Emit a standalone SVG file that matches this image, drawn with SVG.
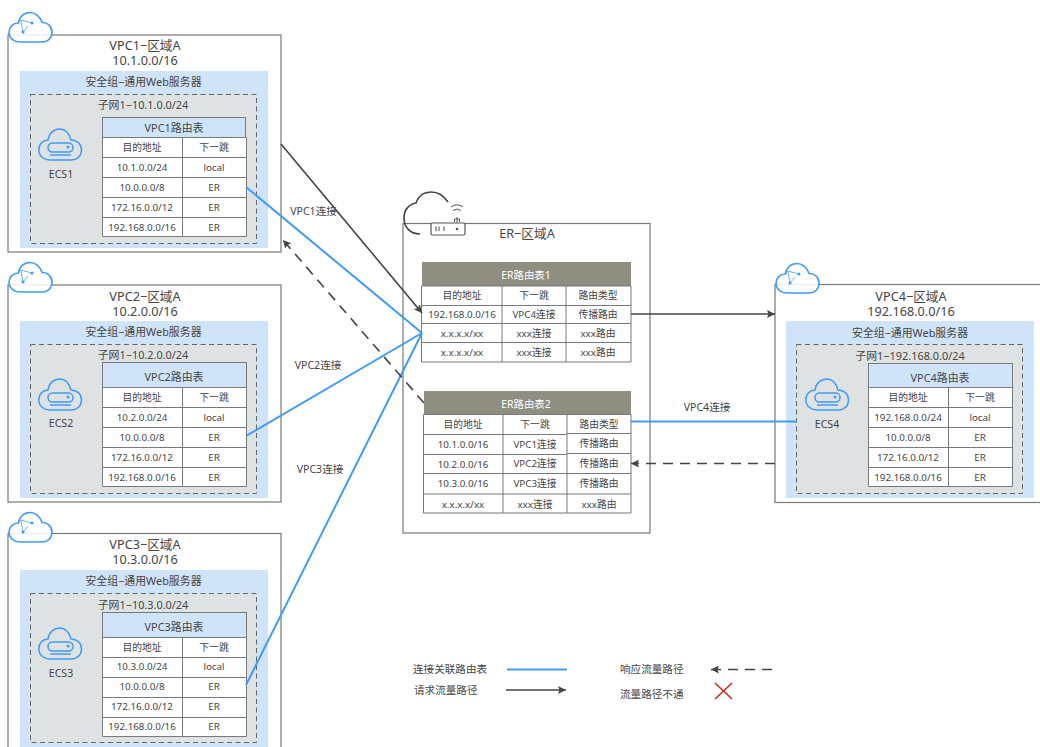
<svg xmlns="http://www.w3.org/2000/svg" width="1040" height="747" viewBox="0 0 1040 747">
<style>
text{font-family:"Noto Sans","Noto Sans CJK SC",sans-serif;fill:#454545;text-anchor:middle;dominant-baseline:central;font-size:9.8px}
.t{font-size:12.7px}
.g{font-size:10.9px}
.w{fill:#fff;font-size:10.4px}
.l{text-anchor:start;font-size:10.6px}
.c{font-size:10.6px}
.box{fill:#fff;stroke:#77797b;stroke-width:1.2}
.sg{fill:#cfe4f9}
.sn{fill:#dfe2e3;stroke:#666;stroke-width:1;stroke-dasharray:5 3.5}
.hd{fill:#cfe4f9;stroke:#77797b;stroke-width:1}
.er{fill:#8f8e80}
.grid{fill:#fff;stroke:#77797b;stroke-width:1}
.cl{fill:#fff;fill-opacity:.85;stroke:#3f9bf5;stroke-width:1.6}
.ic{fill:none;stroke:#3f9bf5;stroke-width:1.5}
.blue{fill:none;stroke:#3f9bf5;stroke-width:2}
.dark{fill:none;stroke:#444;stroke-width:1.6}
.dash{fill:none;stroke:#444;stroke-width:1.6;stroke-dasharray:10 7}
</style>
<defs>
<marker id="ah" markerUnits="userSpaceOnUse" markerWidth="10" markerHeight="8" refX="8" refY="4" orient="auto"><path d="M0 0L8 4L0 8L1.5 4Z" fill="#444"/></marker>
<g id="cloud"><path class="cl" d="M12 31H34C40 31 44 27 44 21C44 15 39 11 34 11.5C32 5 27 1.5 22 1.5C16 1.5 11 6 10.5 12C5 12 1 16 1 21.5C1 27 6 31 12 31Z"/><path d="M12.7 9L15 21M12.7 9L24 12M15 21L20 15" fill="none" stroke="#3f9bf5" stroke-width=".8"/><circle cx="15" cy="21" r="1.5" fill="#3f9bf5"/><circle cx="24" cy="12" r="1.5" fill="#3f9bf5"/></g>
<g id="ecs"><path class="ic" d="M12 32H33C39 32 43.500 28 43.500 22C43.500 16 39 12 33 12C31 5 27 1 22 1C16 1 11 5 10 12C5 12 .8 16 .8 22C.8 28 6 32 12 32Z"/><rect class="ic" x="10" y="15" width="25" height="9" rx="4.500"/><circle cx="30" cy="19" r="1.500" fill="#3f9bf5"/><path class="ic" d="M12 27H33"/></g>
<path id="rows" class="grid" d="M0 0H144V99H0ZM0 20H144M0 40H144M0 60H144M0 80H144M80 0V99"/>
</defs>

<g id="vpc1">
<rect class="box" x="8" y="35" width="273" height="217"/><use href="#cloud" x="8" y="11"/>
<text class="t" x="145" y="45">VPC1−区域A</text><text class="t" x="145" y="60">10.1.0.0/16</text>
<rect class="sg" x="20" y="71" width="248" height="177"/><text class="g" x="143.500" y="81">安全组−通用Web服务器</text>
<rect class="sn" x="30.500" y="94.500" width="226" height="149"/><text class="g" x="143" y="104">子网1−10.1.0.0/24</text>
<use href="#ecs" x="38" y="128"/><text class="c" x="61" y="174">ECS1</text>
<rect class="hd" x="102.500" y="117.500" width="143" height="20"/><text class="g" x="174" y="127.500">VPC1路由表</text>
<use href="#rows" x="102.500" y="137.500"/>
<text x="142" y="147">目的地址</text><text x="214" y="147">下一跳</text>
<text x="142" y="167">10.1.0.0/24</text><text x="214" y="167">local</text>
<text x="142" y="187">10.0.0.0/8</text><text x="214" y="187">ER</text>
<text x="142" y="207">172.16.0.0/12</text><text x="214" y="207">ER</text>
<text x="142" y="227">192.168.0.0/16</text><text x="214" y="227">ER</text>
</g>

<g id="vpc2">
<rect class="box" x="8" y="285" width="273" height="217"/><use href="#cloud" x="8" y="261"/>
<text class="t" x="145" y="296">VPC2−区域A</text><text class="t" x="145" y="311">10.2.0.0/16</text>
<rect class="sg" x="20" y="321" width="248" height="177"/><text class="g" x="143.500" y="331">安全组−通用Web服务器</text>
<rect class="sn" x="30.500" y="344.500" width="226" height="149"/><text class="g" x="143" y="354">子网1−10.2.0.0/24</text>
<use href="#ecs" x="38" y="378"/><text class="c" x="61" y="423">ECS2</text>
<rect class="hd" x="102.500" y="362.500" width="144" height="25"/><text class="g" x="174" y="376">VPC2路由表</text>
<use href="#rows" x="102.500" y="387.500"/>
<text x="142" y="397">目的地址</text><text x="214" y="397">下一跳</text>
<text x="142" y="417">10.2.0.0/24</text><text x="214" y="417">local</text>
<text x="142" y="437">10.0.0.0/8</text><text x="214" y="437">ER</text>
<text x="142" y="457">172.16.0.0/12</text><text x="214" y="457">ER</text>
<text x="142" y="477">192.168.0.0/16</text><text x="214" y="477">ER</text>
</g>

<g id="vpc3">
<rect class="box" x="8" y="533.500" width="273" height="225"/><use href="#cloud" x="8" y="511"/>
<text class="t" x="145" y="544">VPC3−区域A</text><text class="t" x="145" y="559">10.3.0.0/16</text>
<rect class="sg" x="20" y="570" width="248" height="190"/><text class="g" x="143.500" y="580">安全组−通用Web服务器</text>
<rect class="sn" x="30.500" y="593.500" width="226" height="149"/><text class="g" x="143" y="604">子网1−10.3.0.0/24</text>
<use href="#ecs" x="38" y="627"/><text class="c" x="61" y="673">ECS3</text>
<rect class="hd" x="102.500" y="612.500" width="144" height="25"/><text class="g" x="174" y="626">VPC3路由表</text>
<use href="#rows" x="102.500" y="637.500"/>
<text x="142" y="647">目的地址</text><text x="214" y="647">下一跳</text>
<text x="142" y="666.500">10.3.0.0/24</text><text x="214" y="666.500">local</text>
<text x="142" y="686.500">10.0.0.0/8</text><text x="214" y="686.500">ER</text>
<text x="142" y="706.500">172.16.0.0/12</text><text x="214" y="706.500">ER</text>
<text x="142" y="726">192.168.0.0/16</text><text x="214" y="726">ER</text>
</g>

<g id="vpc4">
<rect class="box" x="775" y="284.500" width="280" height="218"/><use href="#cloud" x="775" y="262"/>
<text class="t" x="911" y="296">VPC4−区域A</text><text class="t" x="911" y="311">192.168.0.0/16</text>
<rect class="sg" x="786" y="321" width="248" height="177"/><text class="g" x="910" y="332">安全组−通用Web服务器</text>
<rect class="sn" x="796.500" y="344.500" width="226" height="149"/><text class="g" x="910" y="355">子网1−192.168.0.0/24</text>
<use href="#ecs" x="805" y="378"/><text class="c" x="827" y="424">ECS4</text>
<rect class="hd" x="868.500" y="363.500" width="144" height="24"/><text class="g" x="940" y="377">VPC4路由表</text>
<use href="#rows" x="868.500" y="387.500"/>
<text x="908" y="397">目的地址</text><text x="980" y="397">下一跳</text>
<text x="908" y="417">192.168.0.0/24</text><text x="980" y="417">local</text>
<text x="908" y="437">10.0.0.0/8</text><text x="980" y="437">ER</text>
<text x="908" y="457">172.16.0.0/12</text><text x="980" y="457">ER</text>
<text x="908" y="477">192.168.0.0/16</text><text x="980" y="477">ER</text>
</g>

<g id="er">
<rect class="box" x="403" y="223.500" width="247" height="309.500"/>
<path d="M448 202C444 196 438 192 431 192C423 192 418 197 416 203C409 204 404 210 404 218C404 227 410 234 420 234" fill="none" stroke="#444" stroke-width="1.6"/>
<rect x="431" y="223" width="34" height="12" rx="1.500" fill="#fff" stroke="#555" stroke-width="1.200"/>
<path d="M436 226.500V231M439 226.500V231M444 226.500V231" stroke="#555" stroke-width="1.100"/><circle cx="457" cy="229" r="1.300" fill="#555"/>
<path d="M457 223V217M454.500 222V219H459.500V222M453 210.500Q457 207.500 461 210.500M451 207Q457 202.500 463 207" fill="none" stroke="#555" stroke-width="1"/>
<text class="t" x="527" y="233">ER−区域A</text>
<g id="er-table-1">
<rect class="er" x="422" y="262" width="209" height="24"/><text class="w" x="526" y="275">ER路由表1</text>
<path class="grid" d="M421.500 286H631V362H421.500ZM421.500 305.500H631M421.500 323.500H631M421.500 342.500H631M502 286V362M566 286V362"/>
<text x="462" y="295">目的地址</text><text x="534" y="295">下一跳</text><text x="598" y="295">路由类型</text>
<text x="462" y="314">192.168.0.0/16</text><text x="534" y="314">VPC4连接</text><text x="598" y="314">传播路由</text>
<text x="462" y="333">x.x.x.x/xx</text><text x="534" y="333">xxx连接</text><text x="598" y="333">xxx路由</text>
<text x="462" y="352">x.x.x.x/xx</text><text x="534" y="352">xxx连接</text><text x="598" y="352">xxx路由</text>
</g>
<g id="er-table-2">
<rect class="er" x="424" y="391" width="207" height="23.500"/><text class="w" x="526" y="404">ER路由表2</text>
<path class="grid" d="M423.500 414.500H631V513H423.500ZM423.500 434.500H567M423.500 454.500H567M423.500 473.500H631M423.500 494H631M567 433.500H631M567 453.500H631M503 414.500V513M567 414.500V513"/>
<text x="463" y="424">目的地址</text><text x="535" y="424">下一跳</text><text x="599" y="424">路由类型</text>
<text x="463" y="444">10.1.0.0/16</text><text x="535" y="444">VPC1连接</text><text x="599" y="443">传播路由</text>
<text x="463" y="464">10.2.0.0/16</text><text x="535" y="463">VPC2连接</text><text x="599" y="463">传播路由</text>
<text x="463" y="483">10.3.0.0/16</text><text x="535" y="483">VPC3连接</text><text x="599" y="483">传播路由</text>
<text x="463" y="504">x.x.x.x/xx</text><text x="535" y="504">xxx连接</text><text x="599" y="504">xxx路由</text>
</g>
</g>

<g id="connectors">
<path class="dark" marker-end="url(#ah)" d="M281 144L422 313"/>
<path class="blue" d="M246 187L422 333M246 436L422 333M246 685L422 333"/>
<path class="dash" marker-end="url(#ah)" d="M424 403L283 240"/>
<path class="dark" marker-end="url(#ah)" d="M631 314H775"/>
<path class="blue" d="M631 421.500H797"/>
<path class="dash" marker-end="url(#ah)" d="M775 463.500H631"/>
<text class="c" x="313.500" y="211">VPC1连接</text>
<text class="c" x="318" y="365">VPC2连接</text>
<text class="c" x="320" y="469">VPC3连接</text>
<text class="c" x="707" y="407">VPC4连接</text>
</g>

<g id="legend">
<text class="l" x="413" y="669">连接关联路由表</text>
<path class="blue" d="M507 669.500H567"/>
<text class="l" x="414" y="690">请求流量路径</text>
<path class="dark" marker-end="url(#ah)" d="M506 690H566"/>
<text class="l" x="620" y="669">响应流量路径</text>
<path class="dash" marker-end="url(#ah)" d="M772 669.500H711"/>
<text class="l" x="620" y="694">流量路径不通</text>
<path d="M715 683L732 699M732 683L715 699" fill="none" stroke="#d0211c" stroke-width="1.500"/>
</g>
</svg>
